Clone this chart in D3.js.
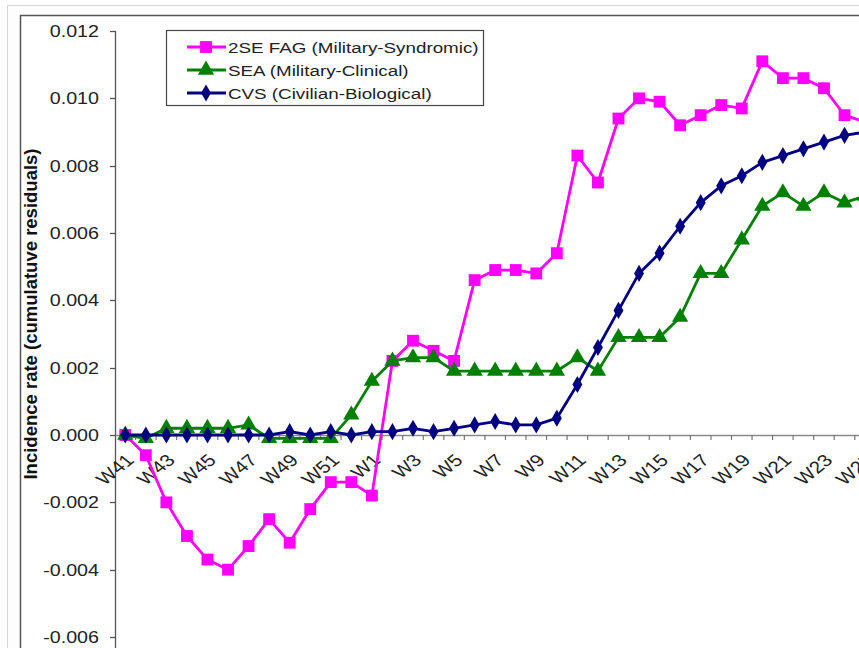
<!DOCTYPE html>
<html>
<head>
<meta charset="utf-8">
<script src="https://cdn.jsdelivr.net/npm/d3@7"></script>
<style>
  body { margin: 0; background: #fff; overflow: hidden; }
  svg { display: block; font-family: "Liberation Sans", Arial, sans-serif; }
</style>
</head>
<body>
<svg id="chart" width="859" height="648"></svg>
<script>
const weeks = ["W41","W42","W43","W44","W45","W46","W47","W48","W49","W50","W51","W52",
  "W1","W2","W3","W4","W5","W6","W7","W8","W9","W10","W11","W12","W13","W14","W15",
  "W16","W17","W18","W19","W20","W21","W22","W23","W24","W25"];

const fagValues = [0.0000,-0.0006,-0.0020,-0.0030,-0.0037,-0.0040,-0.0033,-0.0025,-0.0032,-0.0022,-0.0014,-0.0014,
  -0.0018,0.0022,0.0028,0.0025,0.0022,0.0046,0.0049,0.0049,0.0048,0.0054,0.0083,0.0075,0.0094,0.0100,0.0099,
  0.0092,0.0095,0.0098,0.0097,0.0111,0.0106,0.0106,0.0103,0.0095,0.0093];

const seaValues = [0.0000,-0.0001,0.0002,0.0002,0.0002,0.0002,0.0003,-0.0001,-0.0001,-0.0001,-0.0001,0.0006,
  0.0016,0.0022,0.0023,0.0023,0.0019,0.0019,0.0019,0.0019,0.0019,0.0019,0.0023,0.0019,0.0029,0.0029,0.0029,
  0.0035,0.0048,0.0048,0.0058,0.0068,0.0072,0.0068,0.0072,0.0069,0.0071];

const cvsValues = [0.0000,0.0000,0.0000,0.0000,0.0000,0.0000,0.0000,0.0000,0.0001,0.0000,0.0001,0.0000,
  0.0001,0.0001,0.0002,0.0001,0.0002,0.0003,0.0004,0.0003,0.0003,0.0005,0.0015,0.0026,0.0037,0.0048,0.0054,
  0.0062,0.0069,0.0074,0.0077,0.0081,0.0083,0.0085,0.0087,0.0089,0.0090];

const seriesNames = ["2SE FAG (Military-Syndromic)", "SEA (Military-Clinical)", "CVS (Civilian-Biological)"];
const seriesColors = ["#ff00ff", "#008000", "#000080"];
const seriesSymbols = [d3.symbolSquare, d3.symbolTriangle, d3.symbolDiamond];
const yTicks = [-0.006, -0.004, -0.002, 0.000, 0.002, 0.004, 0.006, 0.008, 0.010, 0.012];
const xLabelWeeks = weeks.filter((w, i) => i % 2 === 0);

const svg = d3.select("#chart");
const stretch = 1.23;

// outer frames
svg.append("rect").attr("x", 7.5).attr("y", 5.5).attr("width", 1000).attr("height", 1000)
  .attr("fill", "#fdfdfd").attr("stroke", "#d4d4d4");
svg.append("rect").attr("x", 20.5).attr("y", 15.5).attr("width", 1000).attr("height", 1000)
  .attr("fill", "#fff").attr("stroke", "#555").attr("stroke-width", 1.5);

const x = d3.scaleBand().domain(weeks).range([115, 115 + weeks.length * 20.55]);
const y = d3.scaleLinear().domain([-0.006, 0.012]).range([637, 31]);
const cx = d => x(d) + x.bandwidth() / 2;

const fmt = d3.formatLocale({decimal: ".", thousands: ",", grouping: [3], currency: ["", ""], minus: "-"}).format(".3f");

// y axis
const yAxis = svg.append("g");
yAxis.append("line").attr("x1", 115.5).attr("x2", 115.5).attr("y1", y(0.012)).attr("y2", 650)
  .attr("stroke", "#555").attr("stroke-width", 1.3);
yAxis.selectAll(".ytick").data(yTicks).join("line")
  .attr("x1", 110).attr("x2", 115.5)
  .attr("y1", d => Math.round(y(d)) + 0.5).attr("y2", d => Math.round(y(d)) + 0.5)
  .attr("stroke", "#555").attr("stroke-width", 1.3);
yAxis.selectAll(".ylab").data(yTicks).join("text")
  .attr("transform", d => `translate(99,${y(d) + 6}) scale(${stretch},1)`)
  .attr("text-anchor", "end").attr("font-size", 16).attr("fill", "#222")
  .text(d => fmt(d));

// x axis
const xAxis = svg.append("g");
xAxis.append("line").attr("x1", 115.5).attr("x2", 900).attr("y1", y(0) + 0.5).attr("y2", y(0) + 0.5)
  .attr("stroke", "#8a8a8a").attr("stroke-width", 1.3);
xAxis.selectAll(".xtick").data(weeks).join("line")
  .attr("x1", d => x(d) + x.bandwidth()).attr("x2", d => x(d) + x.bandwidth())
  .attr("y1", y(0)).attr("y2", y(0) + 5)
  .attr("stroke", "#777").attr("stroke-width", 1.2);
xAxis.selectAll(".xlab").data(xLabelWeeks).join("text")
  .attr("transform", d => `translate(${cx(d) + 1},${y(0) + 19}) scale(${stretch},1) rotate(-45)`)
  .attr("text-anchor", "end").attr("font-size", 17).attr("fill", "#222")
  .attr("dy", "0.6em")
  .text(d => d);

// y title
svg.append("text")
  .attr("transform", "translate(37,314) rotate(-90)")
  .attr("text-anchor", "middle").attr("font-size", 18.5).attr("font-weight", "bold").attr("fill", "#111")
  .text("Incidence rate (cumulatuve residuals)");

// series
const allSeries = [fagValues, seaValues, cvsValues];
const symbolSizes = [140, 115, 85];
const line = d3.line().x((d, i) => cx(weeks[i])).y(d => y(d));

allSeries.forEach((vals, k) => {
  const g = svg.append("g");
  g.append("path").datum(vals).attr("d", line)
    .attr("fill", "none").attr("stroke", seriesColors[k]).attr("stroke-width", 2.8)
    .attr("stroke-linejoin", "round");
  g.selectAll("path.m").data(vals).join("path").attr("class", "m")
    .attr("transform", (d, i) => `translate(${cx(weeks[i])},${y(d)})`)
    .attr("d", d3.symbol().type(seriesSymbols[k]).size(symbolSizes[k]))
    .attr("fill", seriesColors[k]);
});

// legend
const legend = svg.append("g");
legend.append("rect").attr("x", 166.5).attr("y", 30.5).attr("width", 317).attr("height", 75)
  .attr("fill", "#fff").attr("stroke", "#444").attr("stroke-width", 1.2);
seriesNames.forEach((name, k) => {
  const ry = 47 + k * 23;
  legend.append("line").attr("x1", 187).attr("x2", 226).attr("y1", ry).attr("y2", ry)
    .attr("stroke", seriesColors[k]).attr("stroke-width", 2.8);
  legend.append("path").attr("transform", `translate(206,${ry})`)
    .attr("d", d3.symbol().type(seriesSymbols[k]).size(symbolSizes[k]))
    .attr("fill", seriesColors[k]);
  legend.append("text").attr("transform", `translate(228,${ry + 5.5}) scale(${stretch},1)`)
    .attr("font-size", 15.3).attr("fill", "#222").text(name);
});
</script>
</body>
</html>
